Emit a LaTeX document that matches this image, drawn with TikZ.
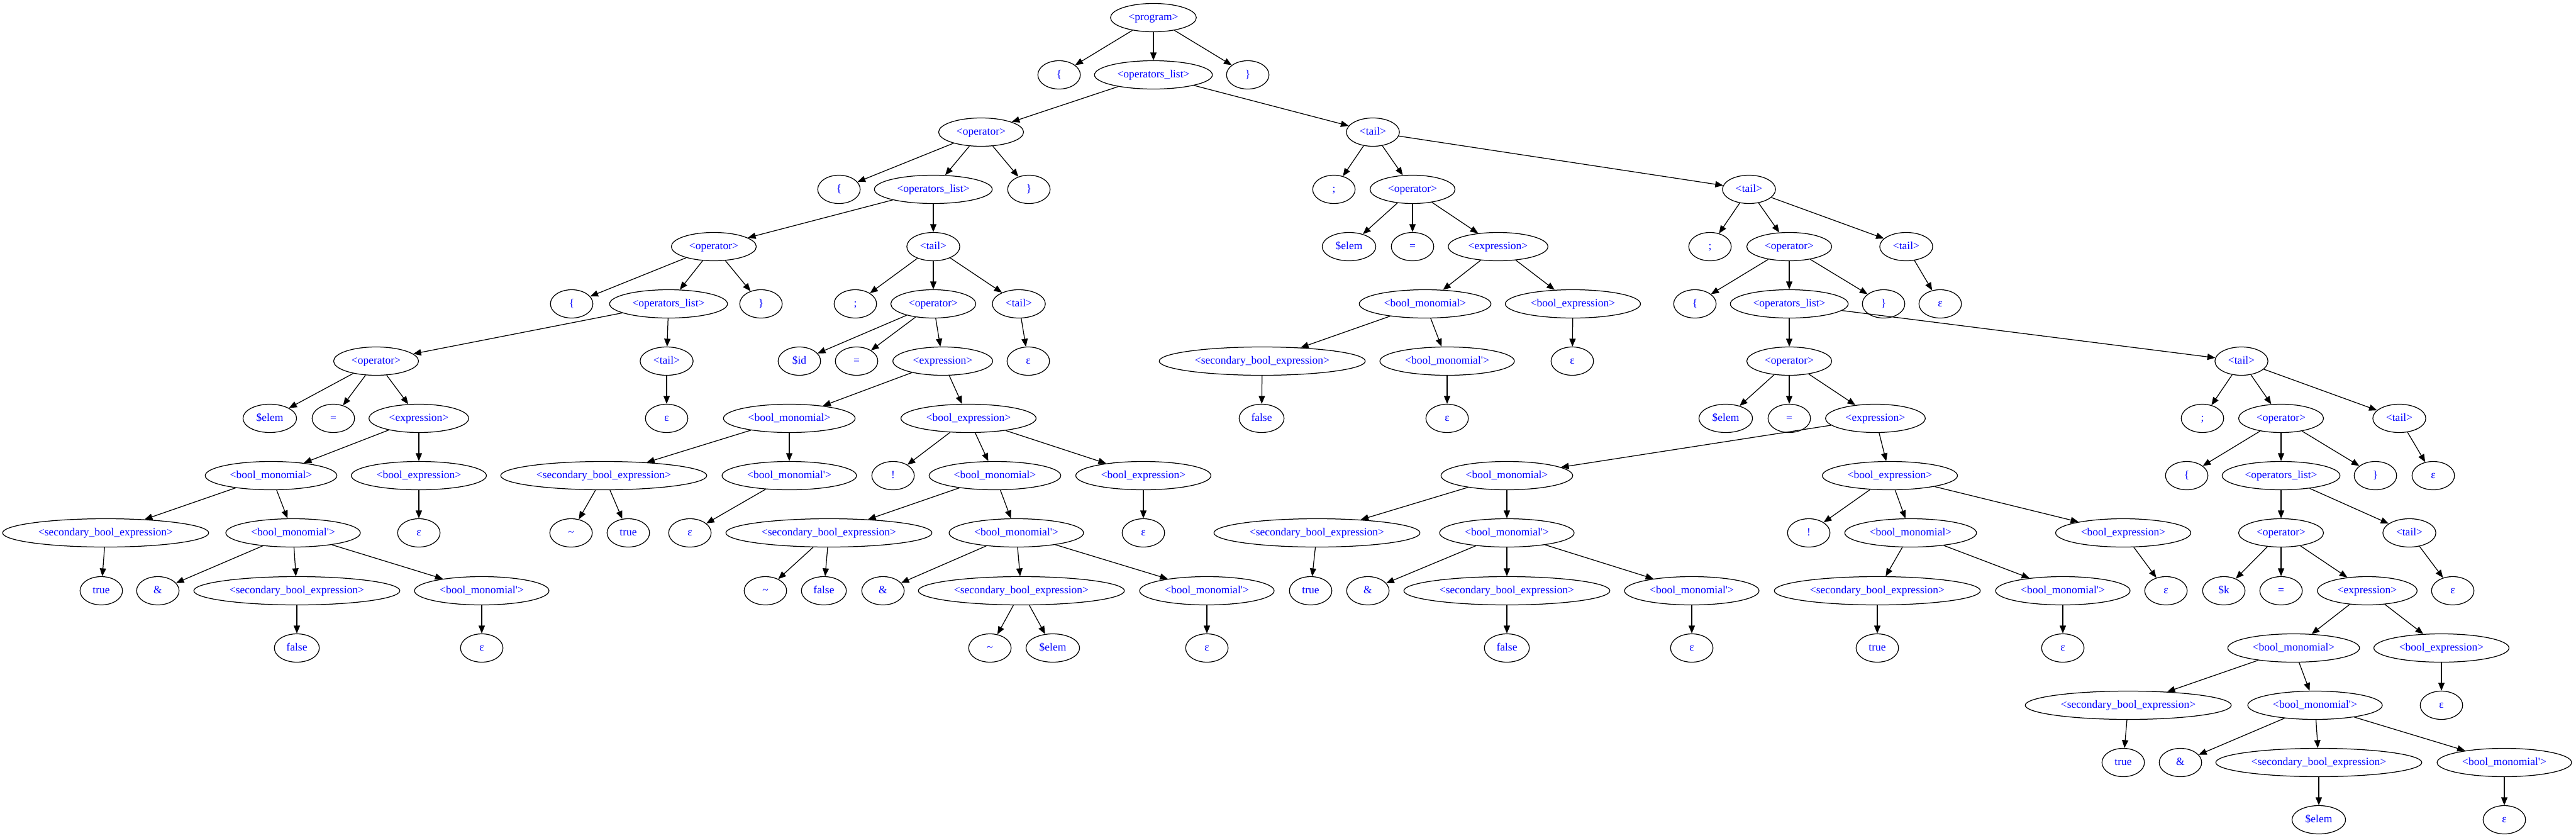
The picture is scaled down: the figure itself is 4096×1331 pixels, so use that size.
\documentclass[tikz,border=0pt]{standalone}
\usepackage{fontspec}
\setmainfont{Liberation Serif}
\usetikzlibrary{shapes.geometric,arrows.meta}

\newcommand{\lOp}{<operator>}
\newcommand{\lOl}{<operators\_list>}
\newcommand{\lTail}{<tail>}
\newcommand{\lExp}{<expression>}
\newcommand{\lBm}{<bool\_monomial>}
\newcommand{\lBmp}{<bool\_monomial\textquotesingle>}
\newcommand{\lBe}{<bool\_expression>}
\newcommand{\lSec}{<secondary\_bool\_expression>}
\newcommand{\eps}{ε}

\tikzset{
  gv/.style={ellipse, draw, line width=1pt, text=blue,
    font=\fontsize{14}{16}\selectfont,
    minimum width=54pt, minimum height=36pt,
    inner xsep=7pt, inner ysep=2pt, text height=9.5pt, text depth=3pt},
  arr/.style={-{Triangle[length=10pt,width=8pt]}, line width=1pt}
}

\begin{document}
\begin{tikzpicture}[x=0.8pt, y=-0.8pt]
\useasboundingbox (0,0) rectangle (4096,1331);

% top
\node[gv] (prog) at (1834,28) {<program>};
\node[gv] (lb0) at (1684,119) {\{};
\node[gv] (ol0) at (1834,119) {\lOl};
\node[gv] (rb0) at (1984,119) {\}};
\node[gv] (op1) at (1560,210) {\lOp};
\node[gv] (tA) at (2183,210) {\lTail};

% left block
\node[gv] (lb1) at (1334,301) {\{};
\node[gv] (ol1) at (1484,301) {\lOl};
\node[gv] (rb1) at (1636,301) {\}};
\node[gv] (op2) at (1135,392) {\lOp};
\node[gv] (t1) at (1484,392) {\lTail};
\node[gv] (lb2) at (909,483) {\{};
\node[gv] (ol2) at (1063,483) {\lOl};
\node[gv] (rb2) at (1210,483) {\}};
\node[gv] (op3) at (598,574) {\lOp};
\node[gv] (t3) at (1060,574) {\lTail};
\node[gv] (e3t) at (1060,665) {\eps};
\node[gv] (id3) at (429,665) {\$elem};
\node[gv] (eq3) at (530,665) {=};
\node[gv] (ex3) at (666,665) {\lExp};
\node[gv] (bm3) at (431,756) {\lBm};
\node[gv] (be3) at (666,756) {\lBe};
\node[gv] (e3be) at (666,847) {\eps};
\node[gv] (sb3) at (168,847) {\lSec};
\node[gv] (bmp3) at (466,847) {\lBmp};
\node[gv] (tr3) at (161,939) {true};
\node[gv] (amp3) at (251,939) {\&};
\node[gv] (sb3b) at (472,939) {\lSec};
\node[gv] (bmp3b) at (766,939) {\lBmp};
\node[gv] (fa3) at (472,1030) {false};
\node[gv] (e3bm) at (766,1030) {\eps};

% second statement of the left block
\node[gv] (sc1) at (1360,483) {;};
\node[gv] (op4) at (1484,483) {\lOp};
\node[gv] (t2) at (1620,483) {\lTail};
\node[gv] (e2) at (1635,574) {\eps};
\node[gv] (id4) at (1271,574) {\$id};
\node[gv] (eq4) at (1362,574) {=};
\node[gv] (ex4) at (1499,574) {\lExp};
\node[gv] (bm4) at (1255,665) {\lBm};
\node[gv] (be4) at (1540,665) {\lBe};
\node[gv] (sb4) at (960,756) {\lSec};
\node[gv] (bmp4) at (1255,756) {\lBmp};
\node[gv] (ti4) at (908,847) {\textasciitilde};
\node[gv] (tr4) at (999,847) {true};
\node[gv] (e4bm) at (1097,847) {\eps};
\node[gv] (no4) at (1420,756) {!};
\node[gv] (bm5) at (1582,756) {\lBm};
\node[gv] (be5) at (1818,756) {\lBe};
\node[gv] (e5be) at (1818,847) {\eps};
\node[gv] (sb5) at (1318,847) {\lSec};
\node[gv] (bmp5) at (1616,847) {\lBmp};
\node[gv] (ti5) at (1217,939) {\textasciitilde};
\node[gv] (fa5) at (1310,939) {false};
\node[gv] (amp5) at (1404,939) {\&};
\node[gv] (sb6) at (1624,939) {\lSec};
\node[gv] (bmp6) at (1919,939) {\lBmp};
\node[gv] (ti6) at (1574,1030) {\textasciitilde};
\node[gv] (el6) at (1674,1030) {\$elem};
\node[gv] (e6bm) at (1919,1030) {\eps};

% right block
\node[gv] (scA) at (2121,301) {;};
\node[gv] (opA) at (2246,301) {\lOp};
\node[gv] (tB) at (2781,301) {\lTail};
\node[gv] (idA) at (2145,392) {\$elem};
\node[gv] (eqA) at (2246,392) {=};
\node[gv] (exA) at (2382,392) {\lExp};
\node[gv] (bmA) at (2266,483) {\lBm};
\node[gv] (beA) at (2501,483) {\lBe};
\node[gv] (eAbe) at (2500,574) {\eps};
\node[gv] (sbA) at (2007,574) {\lSec};
\node[gv] (bmpA) at (2301,574) {\lBmp};
\node[gv] (faA) at (2006,665) {false};
\node[gv] (eAbm) at (2301,665) {\eps};

\node[gv] (scB) at (2719,392) {;};
\node[gv] (opB) at (2845,392) {\lOp};
\node[gv] (tC) at (3031,392) {\lTail};
\node[gv] (eC) at (3085,483) {\eps};
\node[gv] (lbB) at (2695,483) {\{};
\node[gv] (olB) at (2845,483) {\lOl};
\node[gv] (rbB) at (2995,483) {\}};
\node[gv] (opC) at (2845,574) {\lOp};
\node[gv] (idC) at (2744,665) {\$elem};
\node[gv] (eqC) at (2845,665) {=};
\node[gv] (exC) at (2982,665) {\lExp};
\node[gv] (bmC) at (2396,756) {\lBm};
\node[gv] (beC) at (3005,756) {\lBe};
\node[gv] (sbC) at (2094,847) {\lSec};
\node[gv] (bmpC) at (2396,847) {\lBmp};
\node[gv] (trC) at (2084,939) {true};
\node[gv] (ampC) at (2175,939) {\&};
\node[gv] (sbC2) at (2396,939) {\lSec};
\node[gv] (bmpC2) at (2690,939) {\lBmp};
\node[gv] (faC) at (2396,1030) {false};
\node[gv] (eCbm) at (2690,1030) {\eps};
\node[gv] (noC) at (2876,847) {!};
\node[gv] (bmD) at (3038,847) {\lBm};
\node[gv] (beD) at (3376,847) {\lBe};
\node[gv] (eDbe) at (3444,939) {\eps};
\node[gv] (sbD) at (2985,939) {\lSec};
\node[gv] (bmpD) at (3280,939) {\lBmp};
\node[gv] (trD) at (2985,1030) {true};
\node[gv] (eDbm) at (3280,1030) {\eps};

\node[gv] (tD) at (3564,574) {\lTail};
\node[gv] (scD) at (3502,665) {;};
\node[gv] (opD) at (3627,665) {\lOp};
\node[gv] (tE) at (3815,665) {\lTail};
\node[gv] (eE) at (3869,756) {\eps};
\node[gv] (lbD) at (3477,756) {\{};
\node[gv] (olD) at (3627,756) {\lOl};
\node[gv] (rbD) at (3777,756) {\}};
\node[gv] (opE) at (3627,847) {\lOp};
\node[gv] (tF) at (3831,847) {\lTail};
\node[gv] (eF) at (3900,939) {\eps};
\node[gv] (idE) at (3536,939) {\$k};
\node[gv] (eqE) at (3627,939) {=};
\node[gv] (exE) at (3764,939) {\lExp};
\node[gv] (bmE) at (3647,1030) {\lBm};
\node[gv] (beE) at (3882,1030) {\lBe};
\node[gv] (eEbe) at (3882,1121) {\eps};
\node[gv] (sbE) at (3384,1121) {\lSec};
\node[gv] (bmpE) at (3681,1121) {\lBmp};
\node[gv] (trE) at (3376,1212) {true};
\node[gv] (ampE) at (3467,1212) {\&};
\node[gv] (sbE2) at (3687,1212) {\lSec};
\node[gv] (bmpE2) at (3982,1212) {\lBmp};
\node[gv] (elE) at (3687,1303) {\$elem};
\node[gv] (eEbm) at (3982,1303) {\eps};

% edges
\foreach \p/\c in {prog/lb0, prog/ol0, prog/rb0, ol0/op1, ol0/tA,
  op1/lb1, op1/ol1, op1/rb1, ol1/op2, ol1/t1,
  op2/lb2, op2/ol2, op2/rb2, ol2/op3, ol2/t3, t3/e3t,
  op3/id3, op3/eq3, op3/ex3, ex3/bm3, ex3/be3, be3/e3be,
  bm3/sb3, bm3/bmp3, sb3/tr3, bmp3/amp3, bmp3/sb3b, bmp3/bmp3b,
  sb3b/fa3, bmp3b/e3bm,
  t1/sc1, t1/op4, t1/t2, t2/e2, op4/id4, op4/eq4, op4/ex4,
  ex4/bm4, ex4/be4, bm4/sb4, bm4/bmp4, sb4/ti4, sb4/tr4, bmp4/e4bm,
  be4/no4, be4/bm5, be4/be5, be5/e5be, bm5/sb5, bm5/bmp5,
  sb5/ti5, sb5/fa5, bmp5/amp5, bmp5/sb6, bmp5/bmp6,
  sb6/ti6, sb6/el6, bmp6/e6bm,
  tA/scA, tA/opA, tA/tB, opA/idA, opA/eqA, opA/exA,
  exA/bmA, exA/beA, beA/eAbe, bmA/sbA, bmA/bmpA, sbA/faA, bmpA/eAbm,
  tB/scB, tB/opB, tB/tC, tC/eC, opB/lbB, opB/olB, opB/rbB,
  olB/opC, olB/tD, opC/idC, opC/eqC, opC/exC, exC/bmC, exC/beC,
  bmC/sbC, bmC/bmpC, sbC/trC, bmpC/ampC, bmpC/sbC2, bmpC/bmpC2,
  sbC2/faC, bmpC2/eCbm,
  beC/noC, beC/bmD, beC/beD, beD/eDbe, bmD/sbD, bmD/bmpD,
  sbD/trD, bmpD/eDbm,
  tD/scD, tD/opD, tD/tE, tE/eE, opD/lbD, opD/olD, opD/rbD,
  olD/opE, olD/tF, tF/eF, opE/idE, opE/eqE, opE/exE,
  exE/bmE, exE/beE, beE/eEbe, bmE/sbE, bmE/bmpE, sbE/trE,
  bmpE/ampE, bmpE/sbE2, bmpE/bmpE2, sbE2/elE, bmpE2/eEbm}
  \draw[arr] (\p) -- (\c);
\end{tikzpicture}
\end{document}
